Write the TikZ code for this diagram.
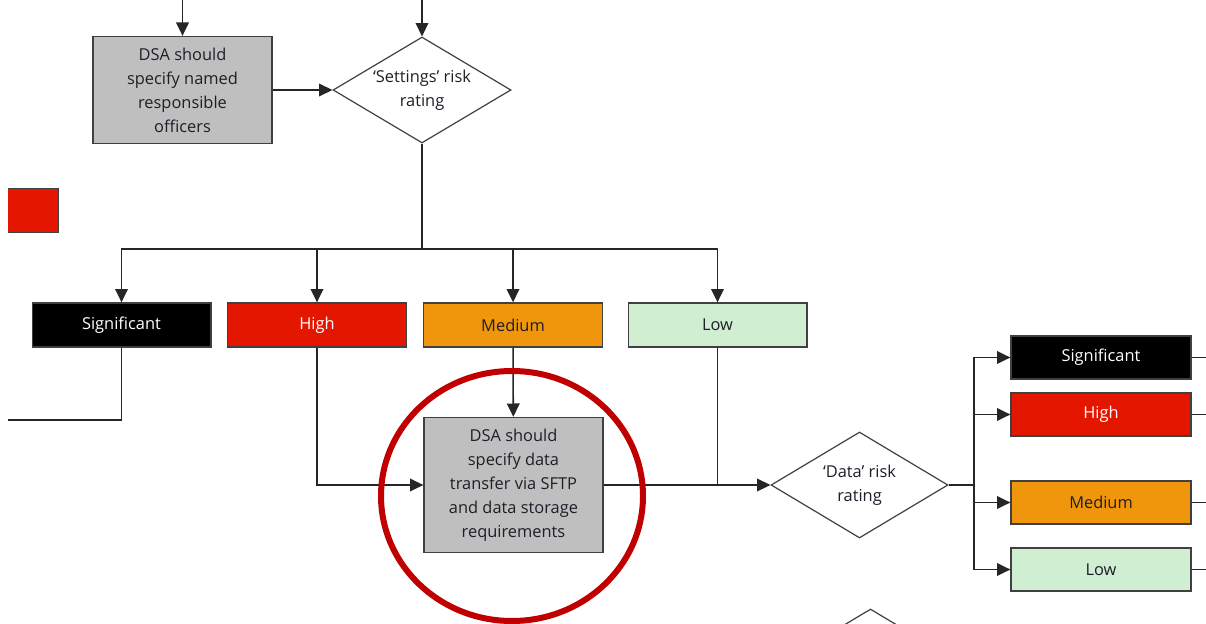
\documentclass[tikz,border=0pt]{standalone}
\usepackage{fontspec}
\setmainfont{Open Sans}
\usetikzlibrary{shapes.geometric,arrows.meta}
\definecolor{boxgray}{RGB}{191,191,191}
\definecolor{boxline}{RGB}{64,64,64}
\definecolor{riskred}{RGB}{229,22,0}
\definecolor{riskorange}{RGB}{240,150,12}
\definecolor{riskgreen}{RGB}{208,238,210}
\definecolor{circred}{RGB}{192,0,0}
\definecolor{txt}{RGB}{30,30,40}
\tikzset{
  conn/.style={draw=black!85, line width=1.15pt},
  arr/.style={conn, -{Triangle[length=10pt,width=9.5pt]}},
  box/.style={draw=boxline, line width=1pt, inner sep=0pt, align=center, text=txt},
  actbox/.style={box, fill=boxgray, minimum width=134.25pt},
  riskbox/.style={box, minimum width=134pt, minimum height=33pt},
  rbox/.style={box, minimum width=135pt, minimum height=32.25pt},
  sigc/.style={fill=black, text=white},
  highc/.style={fill=riskred, text=white},
  medc/.style={fill=riskorange},
  lowc/.style={fill=riskgreen},
  dia/.style={diamond, draw=boxline, line width=0.9pt, fill=white, inner sep=0pt, align=center, text=txt}
}
\begin{document}
\begin{tikzpicture}[x=0.75pt,y=-0.75pt,font=\fontsize{12.3}{18}\selectfont]
\clip (0,0) rectangle (1206,624);
\useasboundingbox (0,0) rectangle (1206,624);

% nodes
\node[actbox, minimum height=80.25pt] (b1) at (182.5,90) {DSA should\\specify named\\responsible\\officers};
\node[dia, minimum width=133.5pt, minimum height=79.5pt] (sdia) at (422,90)
  {\makebox[0pt]{‘Settings’ risk}\\\makebox[0pt]{rating}};
\node[fill=riskred, minimum width=37.5pt, minimum height=33pt, inner sep=0pt] (redsq) at (33,210.5) {};
\draw[boxline, line width=1pt] (redsq.north west) -- (redsq.north east) -- (redsq.south east) -- (redsq.south west);

\node[riskbox, sigc] (sig) at (121.5,325) {Significant};
\node[riskbox, highc] (high) at (317,325) {High};
\node[riskbox, medc] (med) at (513,325) {Medium};
\node[riskbox, lowc] (low) at (717.5,325) {Low};

\node[actbox, minimum height=101.25pt] (b2) at (513.5,485)
  {DSA should\\specify data\\transfer via SFTP\\and data storage\\requirements};
\node[dia, minimum width=132.75pt, minimum height=79.5pt] (ddia) at (859.5,485)
  {\makebox[0pt]{‘Data’ risk}\\\makebox[0pt]{rating}};

\node[rbox, sigc] (rsig) at (1101,357.5) {Significant};
\node[rbox, highc] (rhigh) at (1101,414.5) {High};
\node[rbox, medc] (rmed) at (1101,502.5) {Medium};
\node[rbox, lowc] (rlow) at (1101,569.5) {Low};

\node[dia, minimum width=132.75pt, minimum height=79.5pt] (next) at (870.5,662) {};

% coordinates
\coordinate (t1) at (182.5,0);
\coordinate (t2) at (422,0);
\coordinate (bus) at (422,249);
\coordinate (lend) at (8,420);
\coordinate (dj) at (974,485);
\coordinate (e1) at (1206,357.5);
\coordinate (e2) at (1206,414.5);
\coordinate (e3) at (1206,502.5);
\coordinate (e4) at (1206,569.5);

% connectors
\draw[arr] (t1) -- (b1);
\draw[arr] (t2) -- (sdia);
\draw[arr] (b1) -- (sdia);
\draw[conn, line width=1.7pt] (sdia.south) -- (bus);
\draw[arr] (bus) -| (sig);
\draw[arr] (bus) -| (high);
\draw[arr, line width=1.5pt] (bus) -| (med);
\draw[arr] (bus) -| (low);
\draw[conn] (sig.south) |- (lend);
\draw[arr] (high.south) |- (b2.west);
\draw[arr] (med) -- (b2);
\draw[conn] (low.south) -- (low.south |- b2.east);
\draw[arr] (b2.east) -- (ddia.west);
\draw[conn, line width=1.7pt] (ddia.east) -- (dj);
\draw[arr] (dj) |- (rsig);
\draw[arr] (dj) |- (rhigh);
\draw[arr] (dj) |- (rmed);
\draw[arr] (dj) |- (rlow);
\draw[conn] (rsig) -- (e1);
\draw[conn] (rhigh) -- (e2);
\draw[conn] (rmed) -- (e3);
\draw[conn] (rlow) -- (e4);

% highlight circle
\draw[circred, line width=4.5pt] (512,496) ellipse [x radius=131, y radius=125];
\end{tikzpicture}
\end{document}
